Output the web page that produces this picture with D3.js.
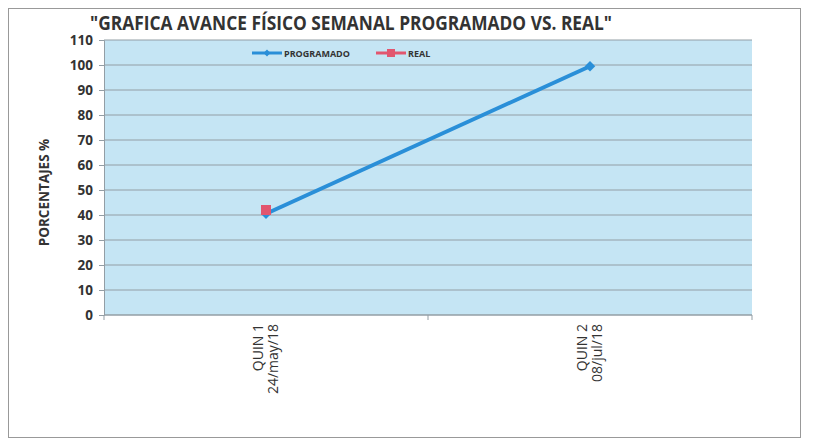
<!DOCTYPE html>
<html>
<head>
<meta charset="utf-8">
<script src="https://cdn.jsdelivr.net/npm/d3@7"></script>
<style>
  body { margin: 0; background: #fff; }
  text { font-family: "Open Sans", "Noto Sans", sans-serif; fill: #333; }
</style>
</head>
<body>
<div id="plot"></div>
<script>
let categories = ['QUIN 1|24/may/18', 'QUIN 2|08/jul/18'];
let programado = [40.5, 99.5];
let real = [42, null];
let yTicks = d3.range(0, 111, 10);

let svgWidth = 813;
let svgHeight = 441;

let margin = { top: 40, right: 61, bottom: 126, left: 104 };
let chartWidth = svgWidth - margin.left - margin.right;
let chartHeight = svgHeight - margin.top - margin.bottom;

let $svg = d3.select('#plot')
    .append('svg')
    .attr('width', svgWidth)
    .attr('height', svgHeight);

// outer frame
$svg.append('rect')
    .attr('x', 8.5).attr('y', 8.5)
    .attr('width', 792).attr('height', 429)
    .attr('fill', 'none')
    .attr('stroke', '#999')
    .attr('stroke-width', 1);

// title
$svg.append('text')
    .attr('x', 351)
    .attr('y', 30)
    .attr('text-anchor', 'middle')
    .style('font-size', '19px')
    .style('font-weight', 'bold')
    .attr('textLength', 522)
    .attr('lengthAdjust', 'spacingAndGlyphs')
    .text('"GRAFICA AVANCE FÍSICO SEMANAL PROGRAMADO VS. REAL"');

let chartGroup = $svg.append('g')
    .attr('transform', `translate(${margin.left}, ${margin.top})`);

let xScale = d3.scaleBand()
    .domain(categories)
    .range([0, chartWidth]);

let yScale = d3.scaleLinear()
    .domain([0, 110])
    .range([chartHeight, 0]);

chartGroup.append('rect')
    .attr('width', chartWidth)
    .attr('height', chartHeight)
    .attr('fill', '#c5e5f4');

// gridlines
chartGroup.selectAll('.grid')
    .data(yTicks)
    .enter()
    .append('line')
    .attr('x1', 0).attr('x2', chartWidth)
    .attr('y1', d => yScale(d)).attr('y2', d => yScale(d))
    .attr('stroke', '#939ea5')
    .attr('stroke-width', 1);

// y axis
let leftAxis = d3.axisLeft(yScale).tickValues(yTicks).tickSize(5).tickPadding(6);
let yAxisG = chartGroup.append('g').call(leftAxis);
yAxisG.select('.domain').attr('stroke', '#939ea5');
yAxisG.selectAll('line').attr('stroke', '#939ea5');
yAxisG.selectAll('text')
    .style('font-size', '13.5px')
    .style('font-weight', 'bold')
    .attr('fill', '#333');

// x axis
let xAxisG = chartGroup.append('g')
    .attr('transform', `translate(0, ${chartHeight})`);
xAxisG.append('line')
    .attr('x1', 0).attr('x2', chartWidth)
    .attr('stroke', '#939ea5');
xAxisG.selectAll('.xtick')
    .data([0, xScale.bandwidth(), chartWidth])
    .enter()
    .append('line')
    .attr('x1', d => d).attr('x2', d => d)
    .attr('y1', 0).attr('y2', 5)
    .attr('stroke', '#939ea5');

categories.forEach(cat => {
    let cx = xScale(cat) + xScale.bandwidth() / 2;
    let lines = cat.split('|');
    let label = xAxisG.append('text')
        .attr('transform', `translate(${cx}, 9) rotate(-90)`)
        .attr('text-anchor', 'end')
        .style('font-size', '14px');
    lines.forEach((l, i) => {
        label.append('tspan')
            .attr('x', 0)
            .attr('y', i === 0 ? -3 : 12)
            .text(l);
    });
});

// y label
$svg.append('text')
    .attr('transform', `translate(49, ${margin.top + chartHeight / 2 + 15}) rotate(-90)`)
    .attr('text-anchor', 'middle')
    .style('font-size', '13.5px')
    .style('font-weight', 'bold')
    .text('PORCENTAJES %');

// programado line
let xCenter = (d, i) => xScale(categories[i]) + xScale.bandwidth() / 2;
let line = d3.line()
    .x(xCenter)
    .y(d => yScale(d));

chartGroup.append('path')
    .datum(programado)
    .attr('d', line)
    .attr('fill', 'none')
    .attr('stroke', '#2a8fd8')
    .attr('stroke-width', 4);

chartGroup.selectAll('.diamond')
    .data(programado)
    .enter()
    .append('path')
    .attr('d', d3.symbol().type(d3.symbolDiamond2).size(70))
    .attr('transform', (d, i) => `translate(${xCenter(d, i)}, ${yScale(d)})`)
    .attr('fill', '#2a8fd8');

// real markers
chartGroup.selectAll('.square')
    .data(real.map((v, i) => ({ v, i })).filter(d => d.v != null))
    .enter()
    .append('rect')
    .attr('x', d => xCenter(d.v, d.i) - 5)
    .attr('y', d => yScale(d.v) - 5)
    .attr('width', 10).attr('height', 10)
    .attr('fill', '#e2566f');

// legend
let legend = chartGroup.append('g').attr('transform', 'translate(0, 13)');
let legendItems = [
    { name: 'PROGRAMADO', x: 148, color: '#2a8fd8', marker: 'diamond' },
    { name: 'REAL', x: 272, color: '#e2566f', marker: 'square' }
];
legendItems.forEach(item => {
    let g = legend.append('g').attr('transform', `translate(${item.x}, 0)`);
    g.append('line')
        .attr('x1', 0).attr('x2', 30)
        .attr('stroke', item.color)
        .attr('stroke-width', 3);
    if (item.marker === 'diamond') {
        g.append('path')
            .attr('d', d3.symbol().type(d3.symbolDiamond2).size(30))
            .attr('transform', 'translate(15, 0)')
            .attr('fill', item.color);
    } else {
        g.append('rect')
            .attr('x', 11).attr('y', -4)
            .attr('width', 8).attr('height', 8)
            .attr('fill', item.color);
    }
    g.append('text')
        .attr('x', 32)
        .attr('y', 3.5)
        .style('font-size', '9px')
        .style('font-weight', 'bold')
        .text(item.name);
});
</script>
</body>
</html>
